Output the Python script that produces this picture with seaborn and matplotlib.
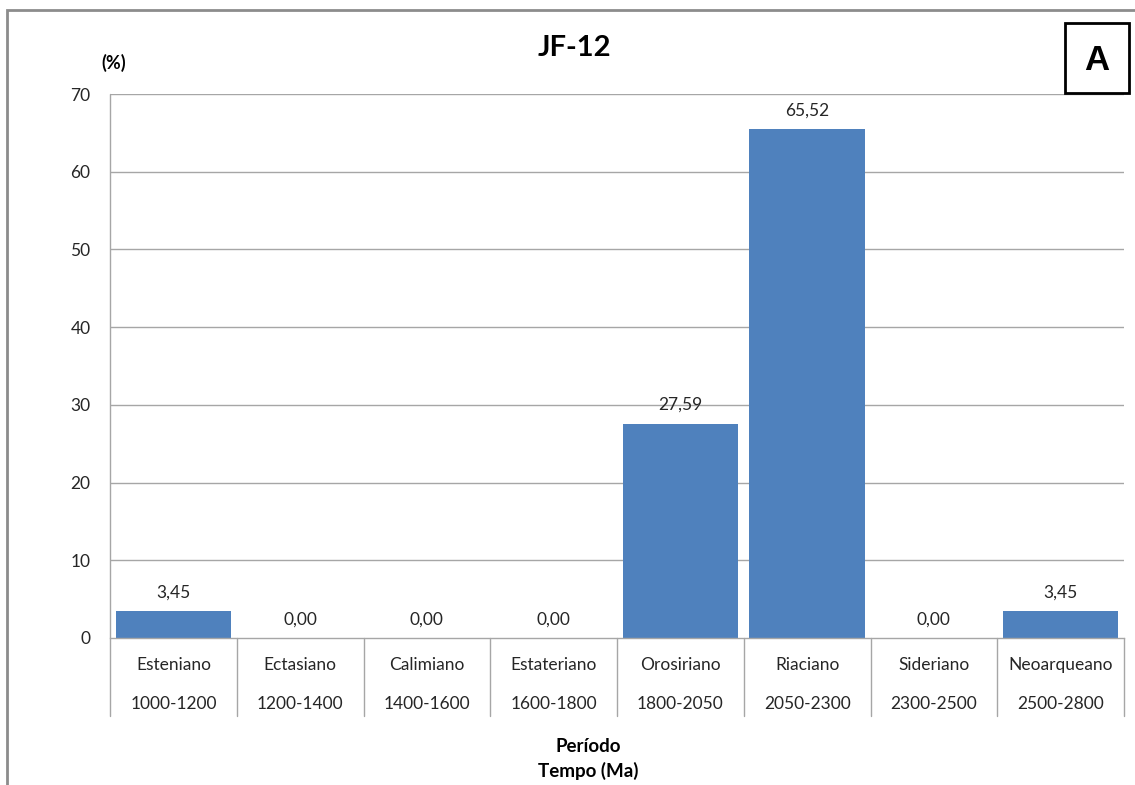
import matplotlib
matplotlib.use("Agg")
import matplotlib.pyplot as plt
import matplotlib.transforms as mtransforms
from matplotlib.patches import Rectangle
import seaborn as sns
import pandas as pd

# Geological periods, their age ranges and the share of zircon ages in each
periods = ["Esteniano", "Ectasiano", "Calimiano", "Estateriano",
           "Orosiriano", "Riaciano", "Sideriano", "Neoarqueano"]
age_ranges = ["1000-1200", "1200-1400", "1400-1600", "1600-1800",
              "1800-2050", "2050-2300", "2300-2500", "2500-2800"]
percent = [3.45, 0.00, 0.00, 0.00, 27.59, 65.52, 0.00, 3.45]
y_ticks = [0, 10, 20, 30, 40, 50, 60, 70]

sns.set_theme(style="white")
plt.rcParams["font.family"] = ["Lato", "DejaVu Sans"]

BAR = "#4F81BD"
GRID = "#A6A6A6"
TXT = "#262626"

W, H = 1135, 785
fig = plt.figure(figsize=(W / 100, H / 100), dpi=100)
ax = fig.add_axes([110 / W, 1 - 638 / H, (1124 - 110) / W, (638 - 94) / H])

df = pd.DataFrame({"periodo": periods, "pct": percent})
sns.barplot(data=df, x="periodo", y="pct", order=periods, color=BAR,
            saturation=1, width=0.91, ax=ax, edgecolor="none")

ax.set_xlim(-0.5, len(periods) - 0.5)
ax.set_ylim(0, 70)
ax.set_yticks(y_ticks)
ax.set_yticklabels([str(t) for t in y_ticks], fontsize=12.5, color=TXT)
ax.tick_params(axis="y", length=0, pad=14)
ax.tick_params(axis="x", length=0, pad=13.5, labelsize=12.5, labelcolor=TXT)
ax.set_xlabel("")
ax.set_ylabel("")

# Horizontal gridlines
for t in y_ticks[1:]:
    ax.axhline(t, color=GRID, lw=1, zorder=0)

for s in ["top", "right", "left"]:
    ax.spines[s].set_visible(False)
ax.spines["bottom"].set_color(GRID)
ax.spines["bottom"].set_linewidth(1)

# Category dividers running down through the label area, plus the left axis line
trans = mtransforms.blended_transform_factory(ax.transData, ax.transAxes)
low = -(716 - 638) / (638 - 94)
for i in range(len(periods) + 1):
    x = i - 0.5
    top = 1.0 if i == 0 else 0.0
    ax.plot([x, x], [low, top], transform=trans, color=GRID, lw=1,
            clip_on=False, zorder=3)

# Age range beneath each period name
for i, r in enumerate(age_ranges):
    ax.text(i, -(704 - 638) / (638 - 94), r, transform=trans, ha="center",
            va="center", fontsize=12.5, color=TXT)

# Value labels above the bars
for i, v in enumerate(percent):
    ax.annotate(f"{v:.2f}".replace(".", ","), xy=(i, v), xytext=(0, 13.3),
                textcoords="offset points", ha="center", va="center",
                fontsize=12.5, color=TXT)

# Titles and axis captions
fig.text(574 / W, 1 - 48 / H, "JF-12", ha="center", va="center",
         fontsize=21, fontweight="bold", color="black")
fig.text(114 / W, 1 - 63 / H, "(%)", ha="center", va="center",
         fontsize=13, fontweight="bold", color="black")
fig.text(588 / W, 1 - 746 / H, "Período", ha="center", va="center",
         fontsize=13.5, fontweight="bold", color="black")
fig.text(588 / W, 1 - 771 / H, "Tempo (Ma)", ha="center", va="center",
         fontsize=13.5, fontweight="bold", color="black")

# Panel letter in a box
fig.add_artist(Rectangle((1065 / W, 1 - 93 / H), 64 / W, 70 / H,
                         transform=fig.transFigure, fill=False,
                         edgecolor="black", lw=2))
fig.text(1097 / W, 1 - 60 / H, "A", ha="center", va="center",
         fontsize=25, fontweight="bold", color="black",
         family=["Liberation Sans", "DejaVu Sans"])

# Chart frame
fig.add_artist(Rectangle((7 / W, -0.2), 1.5, 1.2 - 10 / H,
                         transform=fig.transFigure, fill=False,
                         edgecolor="#8C8C8C", lw=2))

fig.savefig("out.png", dpi=100)
